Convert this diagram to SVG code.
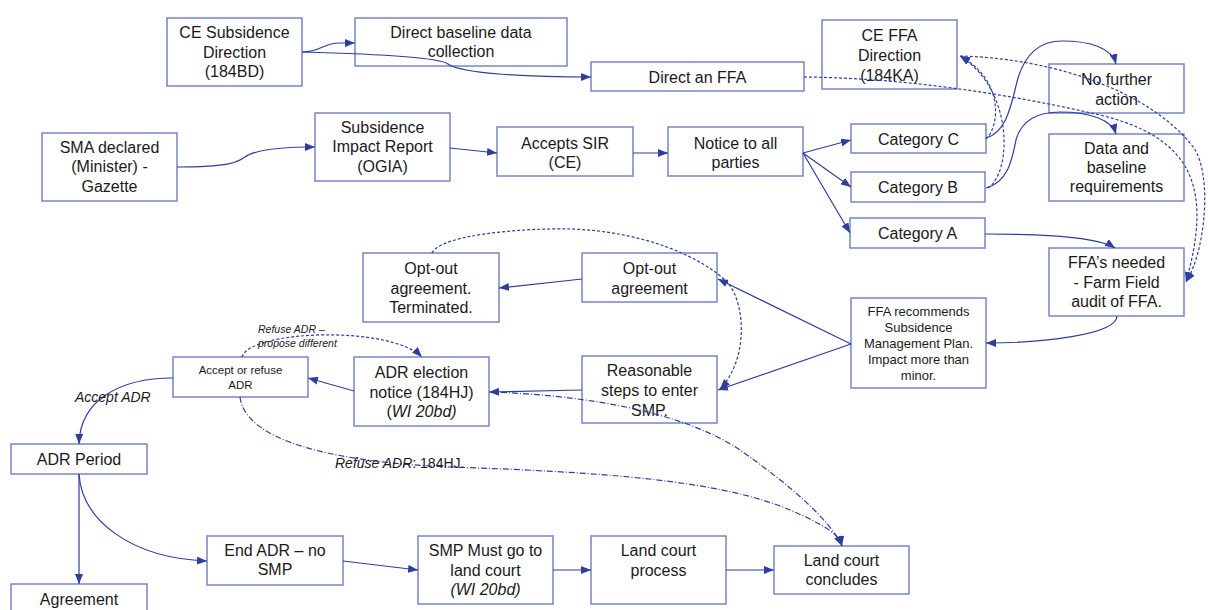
<svg xmlns="http://www.w3.org/2000/svg" width="1208" height="610" viewBox="0 0 1208 610">
<style>
.b{fill:#fff;stroke:#7884c8;stroke-width:1.5}
.t{font-family:"Liberation Sans",Arial,sans-serif;font-size:16px;fill:#1a1a1a;text-anchor:middle}
.s{font-size:13px}
.xs{font-size:11.5px}
.i{font-style:italic}
.c{fill:none;stroke:#2f3e9e;stroke-width:1.2}
.d{stroke-dasharray:3,2}
.dd{stroke-dasharray:6,2,1,2}
.lbl{font-family:"Liberation Sans",Arial,sans-serif;fill:#1a1a1a;font-style:italic}
</style>
<defs>
<marker id="a" markerUnits="userSpaceOnUse" markerWidth="10" markerHeight="8" refX="10" refY="4" orient="auto"><path d="M0,0 L10,4 L0,8 z" fill="#2f3e9e"/></marker>
</defs>
<rect width="1208" height="610" fill="#fff"/>
<g id="ce-subsidence"><rect class="b" x="167" y="18" width="135" height="68"/><text class="t" x="234.5" y="38">CE Subsidence</text><text class="t" x="234.5" y="57.5">Direction</text><text class="t" x="234.5" y="77">(184BD)</text></g>
<g id="direct-baseline"><rect class="b" x="355" y="18" width="212" height="48"/><text class="t" x="461" y="37.5">Direct baseline data</text><text class="t" x="461" y="56.5">collection</text></g>
<g id="direct-ffa"><rect class="b" x="591" y="62" width="213" height="29"/><text class="t" x="697.5" y="82.5">Direct an FFA</text></g>
<g id="sma"><rect class="b" x="42" y="133" width="135" height="68"/><text class="t" x="109.5" y="152.5">SMA declared</text><text class="t" x="109.5" y="172">(Minister) -</text><text class="t" x="109.5" y="191.5">Gazette</text></g>
<g id="sir"><rect class="b" x="315" y="113" width="135" height="68"/><text class="t" x="382.5" y="132.5">Subsidence</text><text class="t" x="382.5" y="152">Impact Report</text><text class="t" x="382.5" y="172">(OGIA)</text></g>
<g id="accepts-sir"><rect class="b" x="497" y="127" width="136" height="49"/><text class="t" x="565" y="148.5">Accepts SIR</text><text class="t" x="565" y="167.5">(CE)</text></g>
<g id="notice"><rect class="b" x="668" y="127" width="135" height="49"/><text class="t" x="735.5" y="148.5">Notice to all</text><text class="t" x="735.5" y="167.5">parties</text></g>
<g id="ce-ffa"><rect class="b" x="822" y="20" width="135" height="69"/><text class="t" x="889.5" y="40.5">CE FFA</text><text class="t" x="889.5" y="60.5">Direction</text><text class="t" x="889.5" y="80.5">(184KA)</text></g>
<g id="cat-c"><rect class="b" x="851" y="124" width="135" height="29"/><text class="t" x="918.5" y="144.5">Category C</text></g>
<g id="cat-b"><rect class="b" x="851" y="172" width="134" height="30"/><text class="t" x="918" y="192.5">Category B</text></g>
<g id="cat-a"><rect class="b" x="850" y="218" width="135" height="30"/><text class="t" x="917.5" y="238.5">Category A</text></g>
<g id="no-further"><rect class="b" x="1049" y="64" width="135" height="49"/><text class="t" x="1116.5" y="84.5">No further</text><text class="t" x="1116.5" y="104.5">action</text></g>
<g id="data-baseline"><rect class="b" x="1049" y="134" width="135" height="67"/><text class="t" x="1116.5" y="153.5">Data and</text><text class="t" x="1116.5" y="173">baseline</text><text class="t" x="1116.5" y="192">requirements</text></g>
<g id="ffas-needed"><rect class="b" x="1049" y="248" width="135" height="68"/><text class="t" x="1116.5" y="267.5">FFA’s needed</text><text class="t" x="1116.5" y="287.5">- Farm Field</text><text class="t" x="1116.5" y="306.5">audit of FFA.</text></g>
<g id="ffa-recommends"><rect class="b" x="851" y="298" width="135" height="90"/><text class="t s" x="918.5" y="315.5">FFA recommends</text><text class="t s" x="918.5" y="331.5">Subsidence</text><text class="t s" x="918.5" y="347.5">Management Plan.</text><text class="t s" x="918.5" y="363.5">Impact more than</text><text class="t s" x="918.5" y="379.5">minor.</text></g>
<g id="optout-terminated"><rect class="b" x="363" y="253" width="136" height="69"/><text class="t" x="431" y="273.5">Opt-out</text><text class="t" x="431" y="293.5">agreement.</text><text class="t" x="431" y="312.5">Terminated.</text></g>
<g id="optout"><rect class="b" x="582" y="253" width="135" height="49"/><text class="t" x="649.5" y="273.5">Opt-out</text><text class="t" x="649.5" y="293.5">agreement</text></g>
<g id="reasonable"><rect class="b" x="582" y="356" width="135" height="67"/><text class="t" x="649.5" y="375.5">Reasonable</text><text class="t" x="649.5" y="395.5">steps to enter</text><text class="t" x="649.5" y="415.5">SMP.</text></g>
<g id="adr-election"><rect class="b" x="354" y="357" width="135" height="69"/><text class="t" x="421.5" y="377.5">ADR election</text><text class="t" x="421.5" y="398">notice (184HJ)</text><text class="t" x="421.5" y="417">(<tspan font-style="italic">WI 20bd)</tspan></text></g>
<g id="accept-refuse"><rect class="b" x="173" y="357" width="135" height="40"/><text class="t xs" x="240.5" y="374">Accept or refuse</text><text class="t xs" x="240.5" y="388.5">ADR</text></g>
<g id="adr-period"><rect class="b" x="11" y="444" width="136" height="30"/><text class="t" x="79" y="464.5">ADR Period</text></g>
<g id="agreement"><rect class="b" x="11" y="584" width="136" height="40"/><text class="t" x="79" y="604.5">Agreement</text></g>
<g id="end-adr"><rect class="b" x="207" y="536" width="136" height="49"/><text class="t" x="275" y="555.5">End ADR – no</text><text class="t" x="275" y="574.5">SMP</text></g>
<g id="smp-court"><rect class="b" x="418" y="536" width="135" height="68"/><text class="t" x="485.5" y="555.5">SMP Must go to</text><text class="t" x="485.5" y="575.5">land court</text><text class="t i" x="485.5" y="594.5">(WI 20bd)</text></g>
<g id="court-process"><rect class="b" x="591" y="536" width="135" height="68"/><text class="t" x="658.5" y="555.5">Land court</text><text class="t" x="658.5" y="575.5">process</text></g>
<g id="court-concludes"><rect class="b" x="774" y="546" width="135" height="48"/><text class="t" x="841.5" y="565.5">Land court</text><text class="t" x="841.5" y="584.5">concludes</text></g>
<g id="connectors">
<path class="c" d="M302,52 C322,52 322,43 340,43 L355,43" marker-end="url(#a)"/>
<path class="c" d="M302,52 C380,54 438,57 448,64 C462,74 530,77 591,77" marker-end="url(#a)"/>
<path class="c" d="M177,167 C230,167 238,162 245,157 C256,149 290,147 315,147" marker-end="url(#a)"/>
<path class="c" d="M450,148 L497,153" marker-end="url(#a)"/>
<path class="c" d="M633,153 L668,153" marker-end="url(#a)"/>
<path class="c" d="M803,153 L851,140" marker-end="url(#a)"/>
<path class="c" d="M803,153 L851,187" marker-end="url(#a)"/>
<path class="c" d="M803,153 L850,233" marker-end="url(#a)"/>
<path class="c" d="M986,138 C1008,132 1012,100 1018,78 C1026,52 1042,41 1062,41 C1090,41 1112,48 1116,64" marker-end="url(#a)"/>
<path class="c" d="M986,188 C1008,182 1012,160 1016,140 C1022,118 1040,112 1060,112 C1090,112 1112,120 1116,134" marker-end="url(#a)"/>
<path class="c d" d="M986,139 C1000,126 1004,80 960,56" marker-end="url(#a)"/>
<path class="c d" d="M988,188 C1012,172 1014,90 960,56" marker-end="url(#a)"/>
<path class="c d" d="M804,77 C900,78 1000,92 1100,115 C1195,138 1212,190 1186,282" marker-end="url(#a)"/>
<path class="c d" d="M960,56 C1050,58 1150,90 1194,148 C1212,175 1206,250 1186,282" marker-end="url(#a)"/>
<path class="c" d="M985,234 C1050,234 1100,238 1115,248" marker-end="url(#a)"/>
<path class="c" d="M1117,316 C1117,335 1040,343 986,343" marker-end="url(#a)"/>
<path class="c" d="M851,344 L718,279" marker-end="url(#a)"/>
<path class="c" d="M851,344 L718,390" marker-end="url(#a)"/>
<path class="c" d="M582,279 L499,288" marker-end="url(#a)"/>
<path class="c" d="M582,390 L489,392" marker-end="url(#a)"/>
<path class="c" d="M354,391 L308,378" marker-end="url(#a)"/>
<path class="c d" d="M432,253 C440,235 520,228 570,229 C640,231 700,255 728,283 C746,305 748,360 720,389" marker-end="url(#a)"/>
<path class="c d" d="M242,357 C250,330 390,325 422,357" marker-end="url(#a)"/>
<path class="c" d="M173,378 C120,378 80,400 79,444" marker-end="url(#a)"/>
<path class="c dd" d="M240,397 C245,440 330,462 450,467 C600,472 720,480 790,510 C825,525 840,535 842,546" marker-end="url(#a)"/>
<path class="c dd" d="M490,392 C580,395 680,410 740,450 C790,485 830,520 842,546" marker-end="url(#a)"/>
<path class="c" d="M79,474 L79,584" marker-end="url(#a)"/>
<path class="c" d="M79,474 C82,520 130,558 207,561" marker-end="url(#a)"/>
<path class="c" d="M343,561 L418,570" marker-end="url(#a)"/>
<path class="c" d="M553,570 L591,570" marker-end="url(#a)"/>
<path class="c" d="M726,570 L774,570" marker-end="url(#a)"/>
<text class="lbl" x="258" y="333" font-size="10.5">Refuse ADR –</text>
<text class="lbl" x="258" y="347" font-size="10.5">propose different</text>
<text class="lbl" x="75" y="402" font-size="14">Accept ADR</text>
<text class="lbl" x="335" y="468" font-size="14">Refuse ADR<tspan font-style="normal">: 184HJ.</tspan></text>
</g>
</svg>
